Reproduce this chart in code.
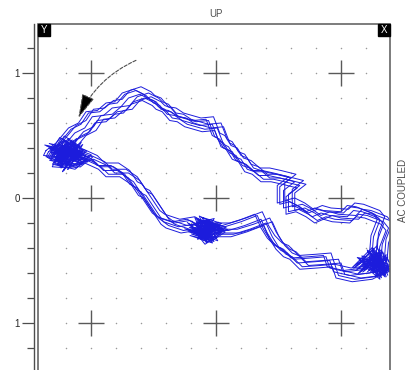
import numpy as np, pandas as pd, matplotlib
matplotlib.use("Agg")
import matplotlib.pyplot as plt, seaborn as sns
from matplotlib.patches import Rectangle

# Boucle principale (unités d'écran : 1 = une grande division)
loop_x = [-1.31, -1.23, -1.13, -1.05, -0.99, -0.90, -0.83, -0.76, -0.70, -0.61, -0.53, -0.50, -0.45, -0.39, -0.33, -0.27,
          -0.20, -0.13, -0.03, 0.02, 0.06, 0.11, 0.16, 0.21, 0.27, 0.34, 0.42, 0.51, 0.63, 0.54, 0.54, 0.62, 0.70,
          0.77, 0.84, 0.91, 1.05, 1.10, 1.17, 1.30, 1.34, 1.29, 1.28, 1.31, 1.35, 1.23, 1.07, 0.94, 0.91, 0.79,
          0.65, 0.57, 0.52, 0.46, 0.41, 0.36, 0.23, 0.10, -0.09, -0.18, -0.30, -0.42, -0.46, -0.50, -0.60, -0.64,
          -0.70, -0.79, -0.90, -0.96, -1.07, -1.20, -1.33, -1.31]
loop_y = [0.34, 0.40, 0.52, 0.56, 0.65, 0.66, 0.72, 0.73, 0.80, 0.83, 0.79, 0.76, 0.74, 0.67, 0.66, 0.62,
          0.60, 0.58, 0.59, 0.46, 0.44, 0.36, 0.34, 0.26, 0.24, 0.18, 0.18, 0.16, 0.13, 0.06, -0.08, -0.06, -0.10,
          -0.15, -0.12, -0.14, -0.15, -0.10, -0.11, -0.16, -0.21, -0.34, -0.46, -0.52, -0.54, -0.60, -0.62, -0.59, -0.50, -0.51,
          -0.52, -0.44, -0.42, -0.36, -0.28, -0.17, -0.22, -0.26, -0.26, -0.21, -0.23, -0.19, -0.16, -0.10, 0.05, 0.07,
          0.16, 0.22, 0.22, 0.28, 0.33, 0.29, 0.30, 0.34]

# décalage de chaque battement
trace_dx = [0.00, 0.04, -0.03, 0.07, 0.02, -0.05, 0.09, 0.01]
trace_dy = [0.00, -0.03, 0.03, 0.01, -0.05, 0.04, -0.02, 0.06]

# amas (zigzags serrés)
amas_gauche_x = [-1.30, -1.18, -1.26, -1.10, -1.22, -1.32, -1.14, -1.04, -1.20, -1.28, -1.12, -1.24, -1.16, -1.34, -1.08, -1.22]
amas_gauche_y = [0.36, 0.44, 0.28, 0.38, 0.46, 0.30, 0.26, 0.34, 0.40, 0.32, 0.44, 0.24, 0.36, 0.40, 0.30, 0.38]
amas_milieu_x = [-0.20, -0.08, -0.14, 0.02, -0.10, -0.18, -0.02, -0.09, -0.22, -0.04, -0.12, 0.04, -0.16, -0.06]
amas_milieu_y = [-0.22, -0.32, -0.18, -0.26, -0.34, -0.24, -0.20, -0.30, -0.27, -0.33, -0.19, -0.24, -0.30, -0.22]
amas_droite_x = [1.20, 1.32, 1.26, 1.36, 1.16, 1.30, 1.24, 1.34, 1.20, 1.12, 1.28, 1.35]
amas_droite_y = [-0.56, -0.46, -0.60, -0.54, -0.50, -0.62, -0.44, -0.58, -0.52, -0.58, -0.42, -0.60]

croix = [-1, 0, 1]
points_grille = [-1.2, -1.0, -0.8, -0.6, -0.4, -0.2, 0.0, 0.2, 0.4, 0.6, 0.8, 1.0, 1.2]
graduations_y = [1.2, 1.0, 0.8, 0.6, 0.4, 0.2, 0.0, -0.2, -0.4, -0.6, -0.8, -1.0, -1.2]
etiquettes_y = {1.0: "1", 0.0: "0", -1.0: "1"}

sns.set_style("white")
plt.rcParams['font.family'] = ['Liberation Sans', 'DejaVu Sans']

fig = plt.figure(figsize=(4.17, 3.70), dpi=100)
ax = fig.add_axes([38/417, -2/370, 352/417, 348/370])
xmin, xmax = -178/125, 174/125
ymax = 174/125
ymin = ymax - 348/125
ax.set_xlim(xmin, xmax)
ax.set_ylim(ymin, ymax)

# grille de points et croix
gx, gy = np.meshgrid(points_grille, points_grille)
ax.scatter(gx.ravel(), gy.ravel(), s=1.2, color="0.6", lw=0, zorder=1)
cx, cy = np.meshgrid(croix, croix)
ax.plot(cx.ravel(), cy.ravel(), ls="none", marker="+", ms=19, mew=1.0, color="0.35", zorder=1)

# battements (boucle + amas, décalés pour chaque battement)
lignes = []
n = 0
for dx, dy in zip(trace_dx, trace_dy):
    for bx, by, f in [(loop_x, loop_y, 1.0), (amas_gauche_x, amas_gauche_y, 0.6),
                      (amas_milieu_x, amas_milieu_y, 0.6), (amas_droite_x, amas_droite_y, 0.6)]:
        lignes.append(pd.DataFrame({"x": np.array(bx) + f * dx, "y": np.array(by) + f * dy, "trace": n}))
        n += 1
df = pd.concat(lignes, ignore_index=True)
sns.lineplot(data=df, x="x", y="y", units="trace", estimator=None, sort=False,
             color="#1c1cdc", lw=0.7, ax=ax, zorder=3)

# flèche de sens
ax.annotate("", xy=(-1.11, 0.62), xytext=(-0.62, 1.11),
            arrowprops=dict(arrowstyle="-|>,head_length=1.5,head_width=0.4", connectionstyle="arc3,rad=0.2",
                            ls=(0, (3, 1.5)), lw=0.8, color="0.3", fc="black"), zorder=4)

# cadre
ax.add_patch(Rectangle((xmin, ymin), xmax - xmin, ymax - ymin, fill=False, ec="0.4", lw=1.2,
                       transform=ax.transData, clip_on=False, zorder=5))
for s in ["top", "right", "bottom"]:
    ax.spines[s].set_visible(False)
ax.spines["left"].set_position(("outward", 3))
ax.spines["left"].set_color("0.3")
ax.spines["left"].set_linewidth(1.0)

ax.set_xticks([])
ax.set_yticks(graduations_y, minor=True)
ax.set_yticks(list(etiquettes_y.keys()))
ax.set_yticklabels(list(etiquettes_y.values()))
ax.tick_params(axis="y", which="major", length=9, width=0.9, color="0.3", labelsize=7, pad=1, left=True)
ax.tick_params(axis="y", which="minor", length=5, width=0.9, color="0.3", left=True)
ax.set_xlabel("")
ax.set_ylabel("")

# étiquettes
fig.text(216/417, 1 - 14/370, "UP", ha="center", va="center", fontsize=7, color="0.3")
fig.text(403/417, 1 - 190/370, "AC COUPLED", ha="center", va="center", rotation=90, fontsize=7, color="0.3")
for lab, x0 in [("Y", 38), ("X", 378)]:
    fig.patches.append(Rectangle((x0/417, 1 - 36/370), 12/417, 12/370, color="black",
                                 transform=fig.transFigure, figure=fig, zorder=10))
    fig.text((x0 + 6)/417, 1 - 30/370, lab, ha="center", va="center", fontsize=7, color="white", zorder=11)

fig.savefig("out.png", dpi=100)
